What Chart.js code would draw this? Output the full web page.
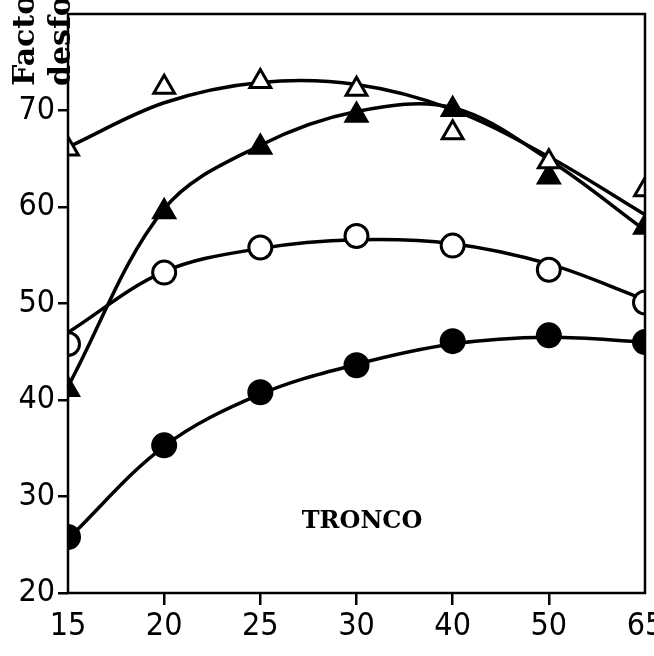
<!DOCTYPE html>
<html>
<head>
<meta charset="utf-8">
<script src="https://cdn.jsdelivr.net/npm/chart.js@4"></script>
<style>
  html, body { margin: 0; padding: 0; background: #fff; }
  #wrap { width: 654px; height: 656px; }
</style>
</head>
<body>
<div id="wrap"><canvas id="grafico" width="654" height="656"></canvas></div>
<script>
// Categorias do eixo X
const idades = ['15', '20', '25', '30', '40', '50', '65'];

// Valores medidos (marcadores)
const trianguloAberto = [66.0, 72.4, 73.0, 72.2, 67.7, 64.7, 61.8];
const trianguloCheio = [41.1, 59.5, 66.2, 69.5, 70.1, 63.1, 57.9];
const circuloAberto = [45.8, 53.2, 55.8, 57.0, 56.0, 53.5, 50.1];
const circuloCheio = [25.8, 35.3, 40.8, 43.6, 46.1, 46.7, 46.0];

// Curvas ajustadas
const curvaTrianguloAberto = [66.2, 70.8, 72.9, 72.7, 70.1, 65.2, 59.2];
const curvaTrianguloCheio = [41.4, 59.8, 66.4, 69.9, 70.3, 64.9, 57.6];
const curvaCirculoAberto = [47.0, 53.3, 55.7, 56.6, 56.2, 54.1, 50.4];
const curvaCirculoCheio = [25.6, 35.2, 40.6, 43.7, 45.8, 46.5, 46.0];

// Eixo Y
const yMin = 20;
const yMax = 80;
const yPasso = 10;

const fonteTicks = { family: "'Liberation Sans Narrow', 'DejaVu Sans Condensed', sans-serif", size: 32 };

function curva(valores) {
  return {
    data: valores,
    borderColor: '#000',
    borderWidth: 3.5,
    pointRadius: 0,
    tension: 0.35,
    fill: false,
    order: 2
  };
}

function marcador(valores, estilo, cheio, raio) {
  return {
    data: valores,
    showLine: false,
    clip: 0,
    pointStyle: estilo,
    pointRadius: raio,
    pointBorderWidth: 3,
    pointBorderColor: '#000',
    pointBackgroundColor: cheio ? '#000' : '#fff',
    order: 1
  };
}

// Moldura, texto do eixo Y (cortado no topo) e rótulo TRONCO
const textos = {
  id: 'textos',
  afterDatasetsDraw(chart) {
    const ctx = chart.ctx;
    const a = chart.chartArea;
    ctx.save();
    ctx.strokeStyle = '#000';
    ctx.lineWidth = 2.5;
    ctx.strokeRect(a.left, a.top, a.right - a.left, a.bottom - a.top);
    ctx.restore();
  },
  afterDraw(chart) {
    const ctx = chart.ctx;
    ctx.save();
    ctx.fillStyle = '#000';
    ctx.font = "bold 24px 'DejaVu Serif', serif";
    ctx.textAlign = 'center';
    ctx.textBaseline = 'alphabetic';
    ctx.fillText('TRONCO', 362, 528);

    ctx.font = "bold 30px 'DejaVu Serif', serif";
    ctx.textAlign = 'left';
    ctx.translate(34, 86);
    ctx.rotate(-Math.PI / 2);
    ctx.fillText('Factor de', 0, 0);
    ctx.fillText('desfolha', 0, 36);
    ctx.restore();
  }
};

const ctx = document.getElementById('grafico').getContext('2d');
new Chart(ctx, {
  type: 'line',
  data: {
    labels: idades,
    datasets: [
      curva(curvaTrianguloAberto),
      curva(curvaTrianguloCheio),
      curva(curvaCirculoAberto),
      curva(curvaCirculoCheio),
      marcador(trianguloAberto, 'triangle', false, 12),
      marcador(trianguloCheio, 'triangle', true, 12),
      marcador(circuloAberto, 'circle', false, 11.5),
      marcador(circuloCheio, 'circle', true, 11.5)
    ]
  },
  options: {
    responsive: false,
    animation: false,
    layout: { autoPadding: false, padding: { top: 14, right: 9, left: 0, bottom: 0 } },
    plugins: { legend: { display: false }, tooltip: { enabled: false } },
    scales: {
      x: {
        offset: false,
        border: { display: false },
        grid: {
          drawOnChartArea: false,
          tickLength: 12,
          lineWidth: 2.5,
          color: (c) => (c.index === 0 || c.index === idades.length - 1) ? 'rgba(0,0,0,0)' : '#000'
        },
        ticks: { color: '#000', font: fonteTicks, padding: 2, maxRotation: 0, autoSkip: false },
        afterFit(scale) {
          scale.paddingLeft = 0;
          scale.paddingRight = 0;
          scale.height = 63;
        }
      },
      y: {
        min: yMin,
        max: yMax,
        border: { display: false },
        grid: {
          drawOnChartArea: false,
          tickLength: 10,
          lineWidth: 2.5,
          color: (c) => (c.tick && c.tick.value === yMax) ? 'rgba(0,0,0,0)' : '#000'
        },
        ticks: {
          stepSize: yPasso,
          color: '#000',
          font: fonteTicks,
          padding: 3,
          callback: (v) => v === yMax ? '' : v
        },
        afterFit(scale) {
          scale.paddingTop = 0;
          scale.paddingBottom = 0;
          scale.width = 68;
        }
      }
    }
  },
  plugins: [textos]
});
</script>
</body>
</html>
